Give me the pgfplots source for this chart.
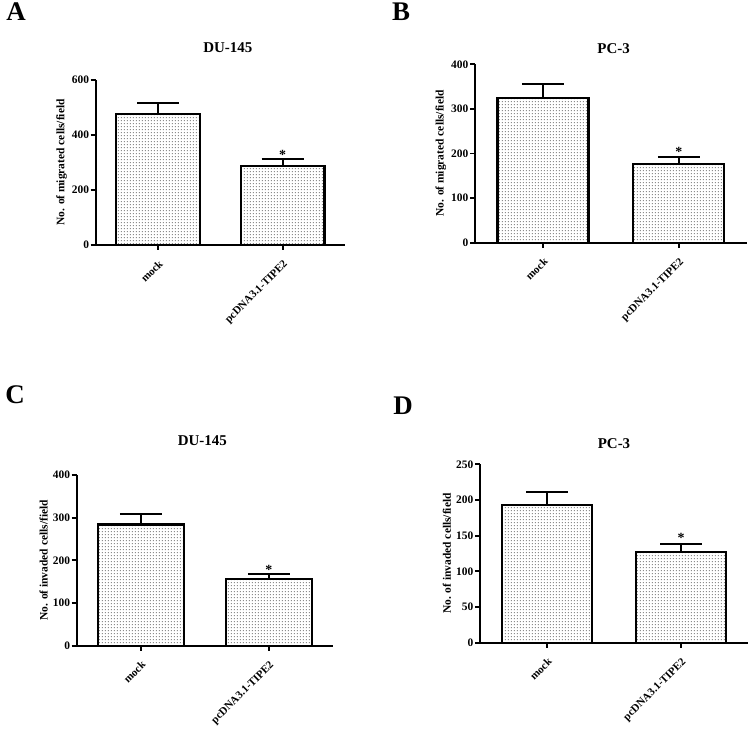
\documentclass[border=0pt]{standalone}
\usepackage{fontspec}
\setmainfont{Liberation Serif}
\usepackage{pgfplots}
\pgfplotsset{compat=1.18}
\usetikzlibrary{patterns}

\pgfdeclarepatternformonly{mydots}{\pgfpointorigin}{\pgfqpoint{2.8bp}{3.3bp}}{\pgfqpoint{2.8bp}{3.3bp}}{%
  \pgfpathrectangle{\pgfqpoint{0.9bp}{1.2bp}}{\pgfqpoint{1bp}{1bp}}\pgfusepath{fill}}

\pgfplotsset{
 panel/.style={
  scale only axis, axis lines=left, axis line style={line width=1.8bp, -},
  ymin=0, xmin=-0.5, xmax=1.5, xtick={0,1}, xticklabels={mock, pcDNA3.1-TIPE2},
  xticklabel style={rotate=45, anchor=north east, font=\fontsize{11}{12}\selectfont\bfseries, inner sep=1pt, yshift=-5.5bp, xshift=-5.5bp},
  yticklabel style={font=\fontsize{11.5}{12}\selectfont\bfseries, inner sep=1.5pt},
  ylabel style={font=\fontsize{11.5}{13}\selectfont\bfseries},
  title style={font=\fontsize{15}{18}\selectfont\bfseries, anchor=center},
  /pgf/number format/assume math mode=true,
  tick align=outside, major tick length=5bp, tick style={line width=1.8bp, black},
  anchor=south west, ybar, bar width=0.67, clip=false,
 },
 barsty/.style={draw=black, line width=2.2bp, fill=white,
   postaction={pattern=mydots, pattern color=black!45},
   error bars/.cd, y dir=plus, y explicit,
   error mark=-,
   error bar style={line width=2bp, black},
   error mark options={rotate=90, line width=2bp, mark size=21bp, black}},
}

\begin{document}
\begin{tikzpicture}[x=1bp,y=1bp]
\useasboundingbox (0,0) rectangle (750,729);

% Panel A
\begin{axis}[panel, at={(95.7bp,484bp)}, width=249.3bp, height=165bp,
  ymax=600, ytick={0,200,400,600},
  ylabel={No. of migrated cells/field},
  title={DU-145}, title style={at={(0.53,1)}, yshift=26bp}]
\addplot[barsty] coordinates {(0,475) +- (0,42) (1,288) +- (0,25)};
\node[font=\fontsize{14}{14}\selectfont\bfseries] at (axis cs:1,313) [yshift=4bp] {*};
\end{axis}

% Panel B
\begin{axis}[panel, at={(475bp,486.3bp)}, width=271.7bp, height=178.4bp,
  ymax=400, ytick={0,100,200,300,400},
  ylabel={No. of migrated cells/field},
  title={PC-3}, title style={at={(0.51,1)}, yshift=10bp}]
\addplot[barsty] coordinates {(0,325) +- (0,30) (1,177) +- (0,15)};
\node[font=\fontsize{14}{14}\selectfont\bfseries] at (axis cs:1,192) [yshift=5bp] {*};
\end{axis}

% Panel C
\begin{axis}[panel, at={(76.7bp,83.3bp)}, width=256.3bp, height=170.7bp,
  ymax=400, ytick={0,100,200,300,400},
  ylabel={No. of invaded cells/field},
  title={DU-145}, title style={at={(0.49,1)}, yshift=28bp}]
\addplot[barsty] coordinates {(0,284) +- (0,24) (1,156) +- (0,12)};
\node[font=\fontsize{14}{14}\selectfont\bfseries] at (axis cs:1,168) [yshift=4bp] {*};
\end{axis}

% Panel D
\begin{axis}[panel, at={(480bp,86.3bp)}, width=268bp, height=178.4bp,
  ymax=250, ytick={0,50,100,150,200,250},
  ylabel={No. of invaded cells/field},
  title={PC-3}, title style={at={(0.50,1)}, yshift=15bp}]
\addplot[barsty] coordinates {(0,193) +- (0,18) (1,127) +- (0,11)};
\node[font=\fontsize{14}{14}\selectfont\bfseries] at (axis cs:1,138) [yshift=6bp] {*};
\end{axis}

\node[font=\fontsize{27}{30}\selectfont\bfseries] at (16,717) {A};
\node[font=\fontsize{27}{30}\selectfont\bfseries] at (401,717) {B};
\node[font=\fontsize{27}{30}\selectfont\bfseries] at (15,334) {C};
\node[font=\fontsize{27}{30}\selectfont\bfseries] at (403,323) {D};
\end{tikzpicture}
\end{document}
